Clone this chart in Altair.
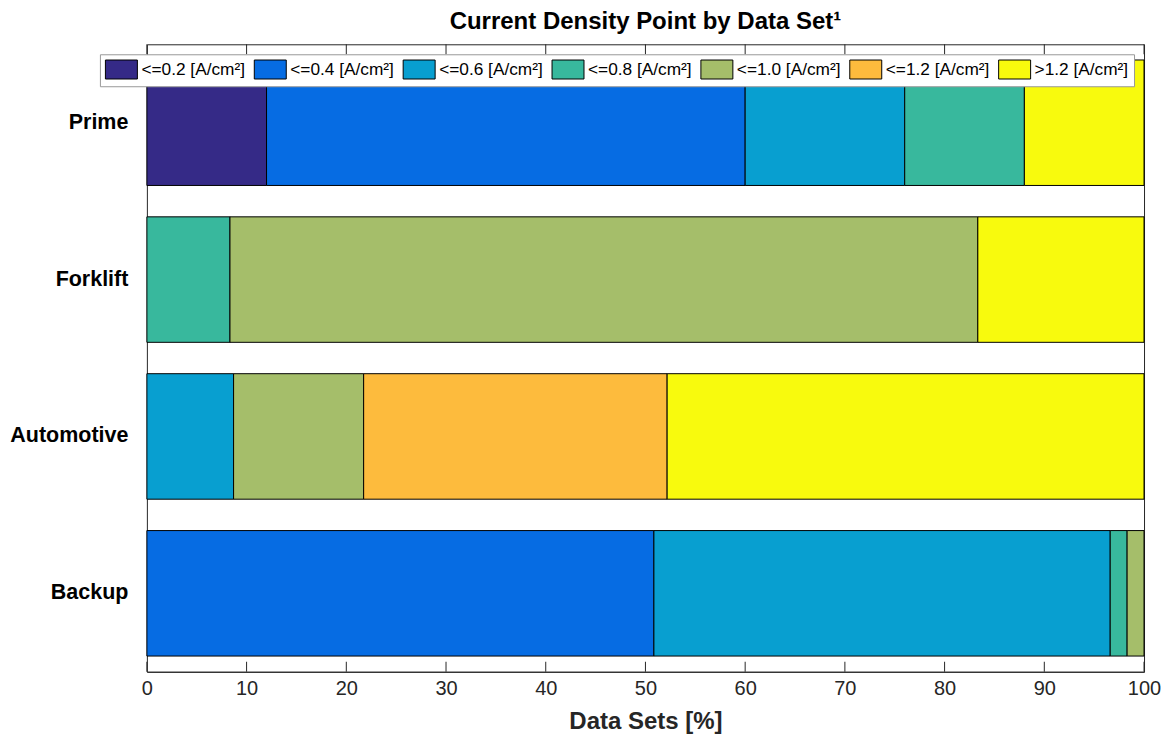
import altair as alt
import pandas as pd

datasets = ["Prime", "Forklift", "Automotive", "Backup"]
levels = ["<=0.2 [A/cm²]", "<=0.4 [A/cm²]", "<=0.6 [A/cm²]", "<=0.8 [A/cm²]",
          "<=1.0 [A/cm²]", "<=1.2 [A/cm²]", ">1.2 [A/cm²]"]
colors = ["#352A87", "#066CE3", "#089FD0", "#38B89D", "#A5BE6A", "#FDBB3D", "#F8FA0D"]

# number of data sets per current-density bin
prime_counts = [3, 12, 4, 3, 0, 0, 3]
forklift_counts = [0, 0, 0, 1, 9, 0, 2]
automotive_counts = [0, 0, 2, 0, 3, 7, 11]
backup_counts = [0, 30, 27, 1, 1, 0, 0]

x_ticks = [0, 10, 20, 30, 40, 50, 60, 70, 80, 90, 100]

rows = []
for ds, cnts in zip(datasets, [prime_counts, forklift_counts, automotive_counts, backup_counts]):
    for i, (lv, c) in enumerate(zip(levels, cnts)):
        rows.append({"dataset": ds, "level": lv, "idx": i, "count": c})
df = pd.DataFrame(rows)
ticks_df = pd.DataFrame({"t": x_ticks})

FONT = "Liberation Sans"
AX = "#262626"
xscale = alt.Scale(domain=[0, 100], nice=False, zero=True)
xaxis = alt.Axis(values=x_ticks, title="Data Sets [%]", ticks=False, tickSize=0,
                 grid=False, labelFontSize=20, labelFont=FONT, labelColor=AX,
                 labelPadding=7, titleFontSize=24, titleFont=FONT,
                 titleFontWeight="bold", titleColor=AX, titlePadding=11,
                 domainColor=AX, labelFlush=False)

bars = (
    alt.Chart(df)
    .transform_filter("datum.count > 0")
    .transform_joinaggregate(total="sum(count)", groupby=["dataset"])
    .transform_calculate(pct="100 * datum.count / datum.total")
    .mark_bar(stroke="black", strokeWidth=1, opacity=1)
    .encode(
        x=alt.X("pct:Q", stack="zero", scale=xscale, axis=xaxis),
        y=alt.Y("dataset:N", sort=datasets,
                scale=alt.Scale(paddingInner=0.2, paddingOuter=0.1),
                axis=alt.Axis(title=None, ticks=False, tickSize=0, domain=False,
                              labelFontSize=21.5, labelFont=FONT, labelFontWeight="bold",
                              labelColor="black", labelPadding=19)),
        color=alt.Color("level:N", scale=alt.Scale(domain=levels, range=colors),
                        legend=alt.Legend(title=None, orient="none", legendX=-47, legendY=10,
                                          direction="horizontal", columns=7, gridAlign="all",
                                          symbolType="M-1.684,-1H1.684V1H-1.684Z",
                                          symbolSize=361, symbolStrokeColor="black",
                                          symbolStrokeWidth=1, symbolOffset=6.5,
                                          symbolOpacity=1, labelOffset=10,
                                          labelFontSize=17.3, labelFont=FONT, labelColor="black",
                                          padding=5, columnPadding=6, fillColor="white",
                                          strokeColor="#999999", labelLimit=300)),
        order=alt.Order("idx:Q"),
    )
)

bottom_ticks = alt.Chart(ticks_df).mark_rule(color=AX, strokeWidth=1).encode(
    x=alt.X("t:Q", scale=xscale, axis=xaxis), y=alt.value(618), y2=alt.value(628))
top_ticks = alt.Chart(ticks_df).mark_rule(color=AX, strokeWidth=1).encode(
    x=alt.X("t:Q", scale=xscale, axis=xaxis), y=alt.value(0), y2=alt.value(10))

chart = (
    alt.layer(bars, bottom_ticks, top_ticks)
    .properties(
        width=998, height=628,
        title=alt.TitleParams("Current Density Point by Data Set¹", fontSize=24, font=FONT,
                              fontWeight="bold", anchor="middle", offset=10, color="black"),
        autosize=alt.AutoSizeParams(type="none"),
        padding={"left": 139, "top": 36, "right": 20, "bottom": 66},
    )
    .configure_view(stroke=AX, strokeWidth=1)
)

chart.save("out.html", embed_options={"renderer": "svg", "actions": False})
